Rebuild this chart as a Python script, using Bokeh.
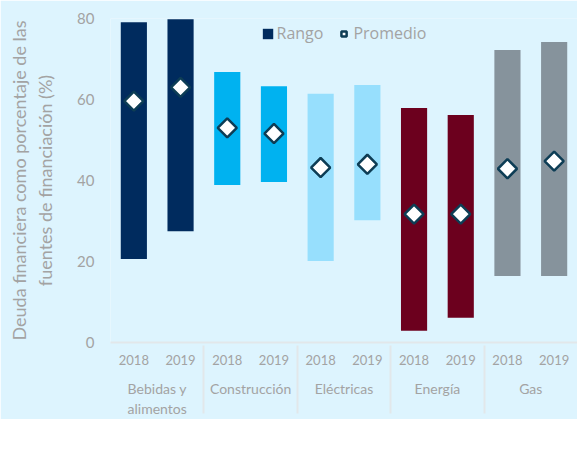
import math
from bokeh.plotting import figure
from bokeh.models import FactorRange, ColumnDataSource, Legend, LegendItem, Range1d, FixedTicker
from bokeh.embed import file_html
from bokeh.resources import INLINE

# ---- data ----
sectors = ["Bebidas y\nalimentos", "Construcción", "Eléctricas", "Energía", "Gas"]
years = ["2018", "2019"]
range_low = [20.6, 27.5, 38.9, 39.6, 20.1, 30.2, 2.9, 6.1, 16.4, 16.4]
range_high = [79.1, 79.8, 66.8, 63.3, 61.4, 63.6, 57.9, 56.2, 72.2, 74.2]
average = [59.6, 63.0, 53.0, 51.6, 43.2, 44.0, 31.7, 31.7, 42.9, 44.8]
sector_colors = ["#002B5E", "#00B2F0", "#97DFFD", "#6C001E", "#86939C"]
y_ticks = [0, 20, 40, 60, 80]

BG = "#DDF4FE"
TXT = "#A3A3A3"
LINE = "#E2E7EA"

factors = [(s, y) for s in sectors for y in years]
colors = [c for c in sector_colors for _ in years]

src = ColumnDataSource(dict(x=factors, low=range_low, high=range_high,
                            avg=average, color=colors))

p = figure(frame_width=467, frame_height=324, output_backend="svg", toolbar_location=None,
           x_range=FactorRange(*factors, group_padding=0, factor_padding=0, range_padding=0),
           y_range=Range1d(0, 80),
           min_border_left=110, min_border_right=0, min_border_top=18,
           min_border_bottom=0)
p.background_fill_color = BG
p.border_fill_color = BG
p.outline_line_color = None
p.grid.grid_line_color = None

bars = p.vbar(x="x", bottom="low", top="high", width=0.56, fill_color="color",
              line_color=None, source=src)
pts = p.scatter(x="x", y="avg", marker="square", angle=math.pi / 4, size=13.5,
                fill_color="white", line_color="#0D3D55", line_width=2.5, source=src)

# y axis
ya = p.yaxis[0]
ya.ticker = FixedTicker(ticks=y_ticks)
ya.axis_line_color = None
ya.major_tick_line_color = None
ya.minor_tick_line_color = None
ya.major_tick_out = 0
ya.major_tick_in = 0
ya.major_label_text_font = "Lato"
ya.major_label_text_font_size = "15px"
ya.major_label_text_color = TXT
ya.major_label_standoff = 16
ya.axis_label = "Deuda financiera como porcentaje de las\nfuentes de financiación (%)"
ya.axis_label_text_font = "Lato"
ya.axis_label_text_font_size = "18px"
ya.axis_label_text_font_style = "normal"
ya.axis_label_text_color = TXT
ya.axis_label_standoff = 18

# x axis
xa = p.xaxis[0]
xa.axis_line_color = LINE
xa.axis_line_width = 2
xa.major_tick_line_color = None
xa.minor_tick_line_color = None
xa.major_tick_out = 0
xa.major_tick_in = 0
xa.major_label_text_font = "Lato"
xa.major_label_text_font_size = "13px"
xa.major_label_text_color = TXT
xa.major_label_standoff = 12
xa.group_text_font = "Lato"
xa.group_text_font_size = "14px"
xa.group_text_color = TXT
xa.group_text_font_style = "normal"
xa.group_text_line_height = 1.2
xa.separator_line_color = LINE
xa.separator_line_width = 2
xa.axis_label_standoff = 0

legend = Legend(items=[LegendItem(label="Rango", renderers=[bars], index=0),
                       LegendItem(label="Promedio", renderers=[pts], index=0)],
                orientation="horizontal", location="top_center")
legend.background_fill_alpha = 0
legend.border_line_color = None
legend.label_text_font = "Open Sans"
legend.label_text_font_size = "16px"
legend.label_text_color = TXT
legend.label_height = 14
legend.glyph_width = 13
legend.glyph_height = 13
legend.label_standoff = 3
legend.spacing = 14
legend.padding = 0
legend.margin = 4
p.add_layout(legend, "center")

html = file_html(p, INLINE)
html = html.replace("<body>", '<body style="background:%s">' % BG, 1)
open("out.html", "w").write(html)
